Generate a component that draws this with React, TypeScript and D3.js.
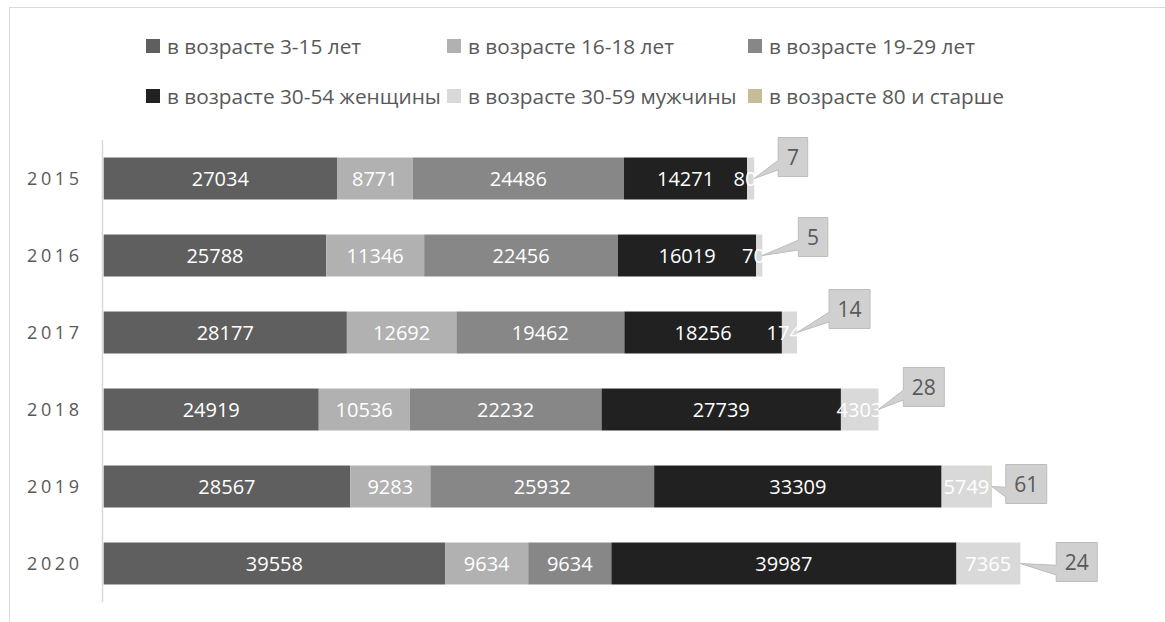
import * as d3 from "d3";

const years = ["2015", "2016", "2017", "2018", "2019", "2020"];
const age3to15 = [27034, 25788, 28177, 24919, 28567, 39558];
const age16to18 = [8771, 11346, 12692, 10536, 9283, 9634];
const age19to29 = [24486, 22456, 19462, 22232, 25932, 9634];
const women30to54 = [14271, 16019, 18256, 27739, 33309, 39987];
const men30to59 = [805, 705, 1742, 4303, 5749, 7365];
const age80plus = [7, 5, 14, 28, 61, 24];

const seriesNames = [
  "в возрасте 3-15 лет",
  "в возрасте 16-18 лет",
  "в возрасте 19-29 лет",
  "в возрасте 30-54 женщины",
  "в возрасте 30-59 мужчины",
  "в возрасте 80 и старше",
];
const seriesColors = ["#5f5f5f", "#b1b1b1", "#878787", "#212121", "#d9d9d9", "#c4bd97"];

// manual placement of the callout boxes for the 80+ labels (dx from tip, top from bar centre)
const calloutPos = [
  { dx: 24, top: -41 },
  { dx: 36, top: -38 },
  { dx: 32, top: -43 },
  { dx: 25, top: -42 },
  { dx: 14, top: -22 },
  { dx: 36, top: -21 },
];

const FONT = "'Open Sans', sans-serif";

export default function App() {
  const width = 1165;
  const height = 622;

  const series = [age3to15, age16to18, age19to29, women30to54, men30to59, age80plus];
  const rows = years.map((year, i) => {
    const row: Record<string, number | string> = { year };
    series.forEach((s, k) => (row[`s${k}`] = s[i]));
    return row;
  });
  const stacked = d3.stack<any>().keys(series.map((_, k) => `s${k}`))(rows);

  const x = d3.scaleLinear().domain([0, 120000]).range([103.7, 1139.3]);
  const y = d3
    .scaleBand()
    .domain(years)
    .range([140, 602])
    .paddingInner(0.455)
    .paddingOuter(0.2275);

  const legendCols = [146, 447, 748];
  const legendRows = [39, 89];

  return (
    <svg
      width={width}
      height={height}
      style={{ position: "absolute", left: 0, top: 0, background: "#fff" }}
      fontFamily={FONT}
    >
      <rect x={9.5} y={7.5} width={1300} height={800} fill="none" stroke="#d9d9d9" />

      {/* Legend */}
      {seriesNames.map((name, k) => {
        const lx = legendCols[k % 3];
        const ly = legendRows[Math.floor(k / 3)];
        return (
          <g key={name}>
            <rect x={lx} y={ly} width={14} height={14} fill={seriesColors[k]} />
            <text x={lx + 21} y={ly + 14.5} fontSize={20.8} fill="#595959">
              {name}
            </text>
          </g>
        );
      })}

      {/* Axis line */}
      <line x1={102.5} x2={102.5} y1={140} y2={602} stroke="#d9d9d9" strokeWidth={1.5} />

      {/* Year labels */}
      {years.map((yr) => (
        <text
          key={yr}
          x={27}
          y={y(yr)! + y.bandwidth() / 2 + 6.5}
          fontSize={18}
          letterSpacing={3.6}
          fill="#595959"
        >
          {yr}
        </text>
      ))}

      {/* Bars */}
      {stacked.map((layer, k) => (
        <g key={layer.key} fill={seriesColors[k]}>
          {layer.map((d, i) => (
            <rect
              key={i}
              x={x(d[0])}
              y={y(years[i])}
              width={Math.max(0, x(d[1]) - x(d[0]))}
              height={y.bandwidth()}
            />
          ))}
        </g>
      ))}

      {/* Segment labels */}
      {stacked.slice(0, 5).map((layer) => (
        <g key={`lab-${layer.key}`}>
          {layer.map((d, i) => (
            <text
              key={i}
              x={(x(d[0]) + x(d[1])) / 2}
              y={y(years[i])! + y.bandwidth() / 2}
              dy="0.36em"
              textAnchor="middle"
              fontSize={20}
              fill="#ffffff"
            >
              {d[1] - d[0]}
            </text>
          ))}
        </g>
      ))}

      {/* Callouts for 80+ */}
      {stacked[5].map((d, i) => {
        const tipX = x(d[1]);
        const tipY = y(years[i])! + y.bandwidth() / 2;
        const label = String(age80plus[i]);
        const w = label.length * 11.5 + 18;
        const h = 39;
        const l = tipX + calloutPos[i].dx;
        const t = tipY + calloutPos[i].top;
        const below = tipY > t + h / 2;
        const y1 = t + (h * (below ? 7 : 2)) / 12;
        const y2 = t + (h * (below ? 10 : 5)) / 12;
        const path = d3.path();
        path.moveTo(l, t);
        path.lineTo(l + w, t);
        path.lineTo(l + w, t + h);
        path.lineTo(l, t + h);
        path.lineTo(l, y2);
        path.lineTo(tipX, tipY);
        path.lineTo(l, y1);
        path.closePath();
        return (
          <g key={`c-${i}`}>
            <path d={path.toString()} fill="#d0d0d0" stroke="#bdbdbd" strokeWidth={1} />
            <text
              x={l + w / 2}
              y={t + h / 2}
              dy="0.36em"
              textAnchor="middle"
              fontSize={21}
              fill="#595959"
            >
              {label}
            </text>
          </g>
        );
      })}
    </svg>
  );
}
